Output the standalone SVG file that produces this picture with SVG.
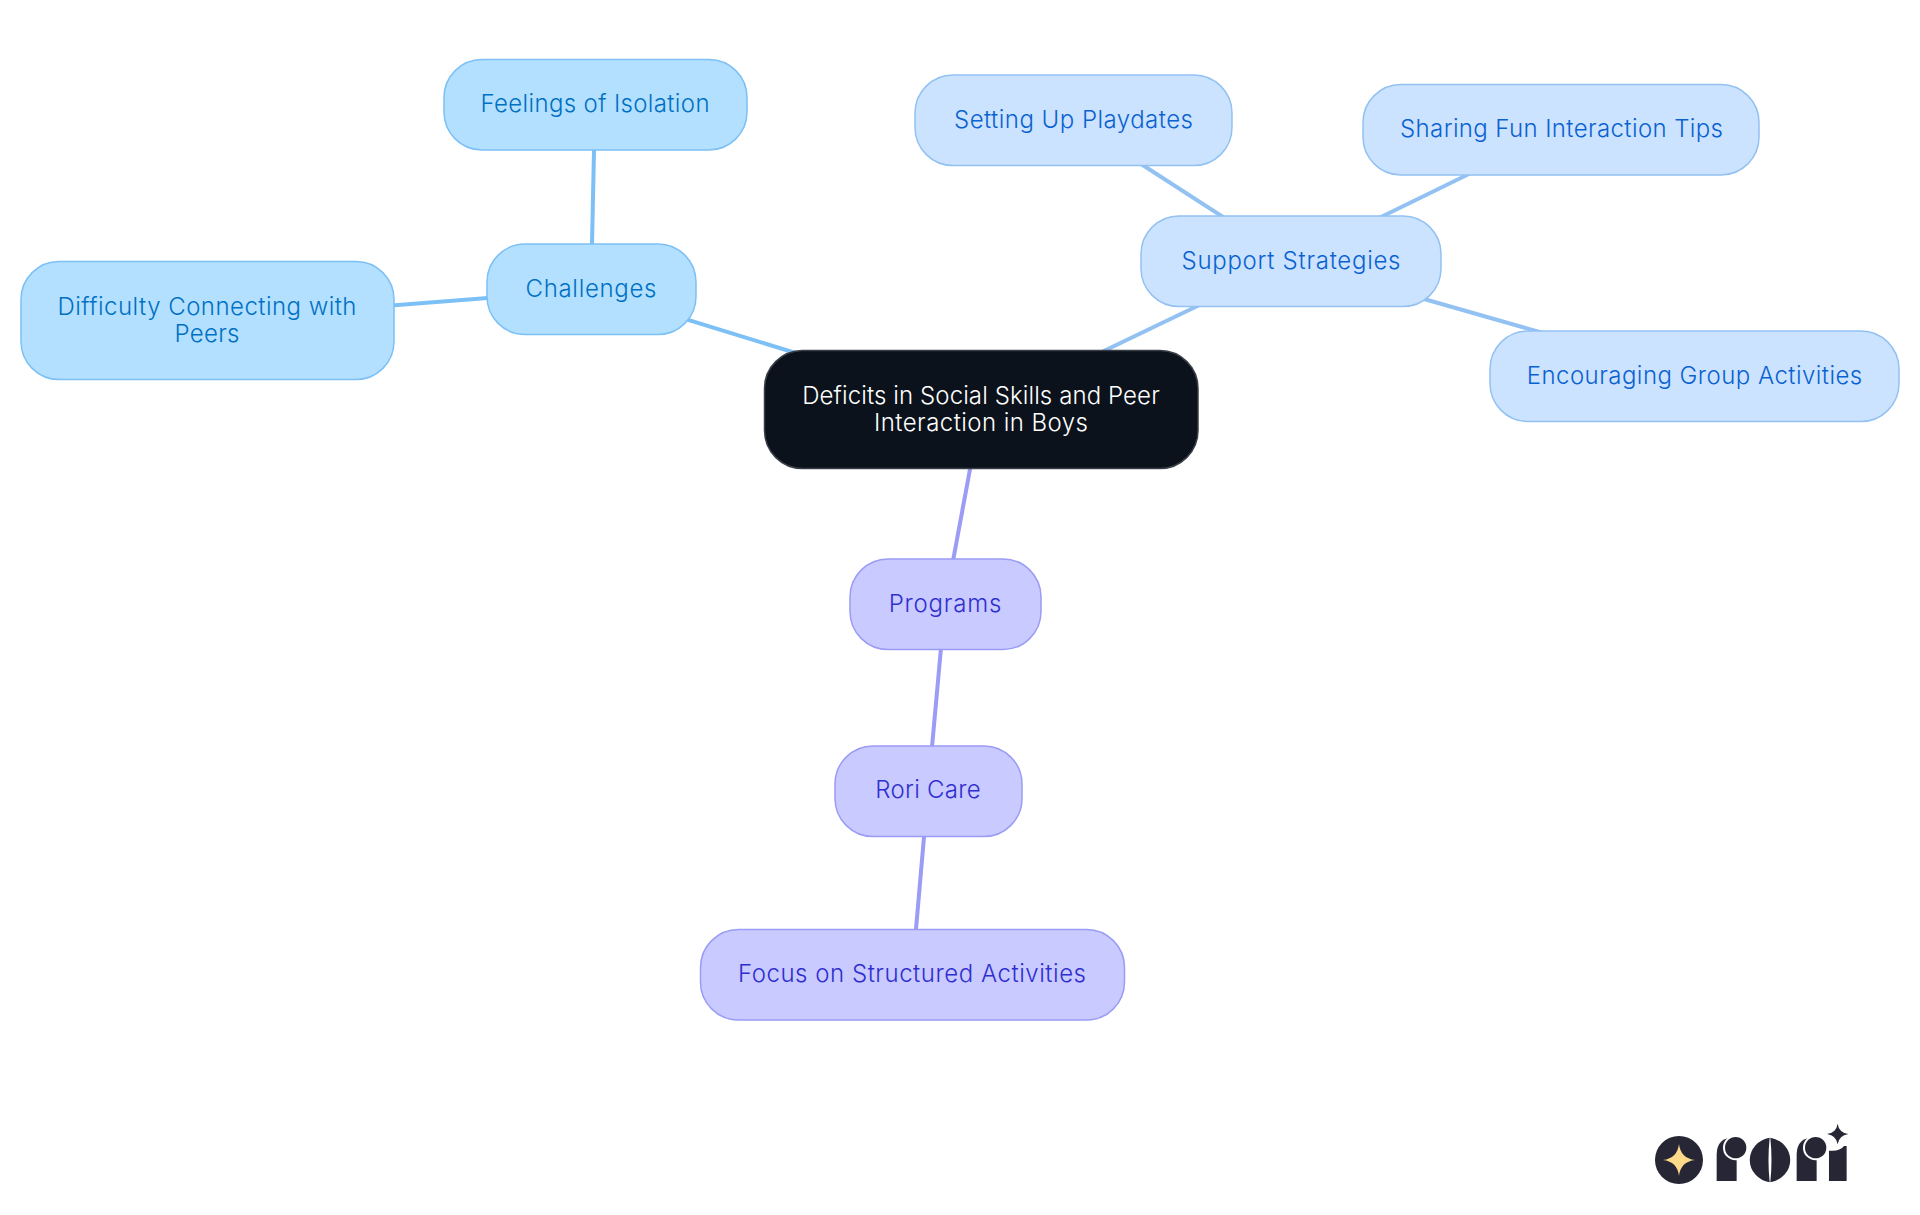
<svg xmlns="http://www.w3.org/2000/svg" width="1920" height="1215" viewBox="0 0 1920 1215">
<style>
text{font-family:"Inter","Noto Sans",sans-serif;font-size:24px;font-weight:350;text-anchor:middle}
.n{stroke-width:1.5}
.c{fill:#b3e0ff;stroke:#7cc0f5}text.c{fill:#0070c4;stroke:none}
.s{fill:#cce3ff;stroke:#92c1f2}text.s{fill:#0a62d0;stroke:none}
.p{fill:#c9caff;stroke:#9a9cf5}text.p{fill:#2f2fcf;stroke:none}
#connectors line{stroke-width:4}
.lc{stroke:#7cc0f5}.ls{stroke:#92c1f2}.lp{stroke:#9a9cf5}
.logo{fill:#262635}
text.w{fill:#fff;font-weight:300}
</style>
<rect width="1920" height="1215" fill="#fff"/>
<g id="connectors">
<line class="lc" x1="591" y1="290" x2="981" y2="410"/>
<line class="lc" x1="591" y1="290" x2="595" y2="105"/>
<line class="lc" x1="591" y1="290" x2="207" y2="320"/>
<line class="ls" x1="1291" y1="261" x2="981" y2="410"/>
<line class="ls" x1="1291" y1="261" x2="1073" y2="120"/>
<line class="ls" x1="1291" y1="261" x2="1561" y2="129"/>
<line class="ls" x1="1291" y1="261" x2="1694" y2="376"/>
<line class="lp" x1="945" y1="604" x2="981" y2="410"/>
<line class="lp" x1="945" y1="604" x2="928" y2="791"/>
<line class="lp" x1="928" y1="791" x2="912" y2="975"/>
</g>
<g id="root"><rect x="764.500" y="350.500" width="433.500" height="118" rx="38" fill="#0b121b" stroke="#3a3f47" stroke-width="1.500"/>
<text class="w" x="981" y="404" textLength="357.500">Deficits in Social Skills and Peer</text><text class="w" x="981" y="431" textLength="214">Interaction in Boys</text></g>
<g id="challenges"><rect class="n c" x="487" y="244" width="209" height="90.500" rx="38"/><text class="c" x="591" y="297" textLength="131">Challenges</text></g>
<g id="feelings"><rect class="n c" x="444" y="59.500" width="303" height="90.500" rx="38"/><text class="c" x="595" y="112" textLength="229">Feelings of Isolation</text></g>
<g id="difficulty"><rect class="n c" x="21" y="261.500" width="373" height="118" rx="38"/><text class="c" x="207" y="315" textLength="299">Difficulty Connecting with</text><text class="c" x="207" y="342" textLength="65">Peers</text></g>
<g id="support"><rect class="n s" x="1141" y="216" width="300" height="90.500" rx="38"/><text class="s" x="1291" y="269" textLength="219">Support Strategies</text></g>
<g id="playdates"><rect class="n s" x="915" y="75" width="317" height="90.500" rx="38"/><text class="s" x="1073.500" y="128" textLength="239">Setting Up Playdates</text></g>
<g id="tips"><rect class="n s" x="1363" y="84.500" width="396" height="90.500" rx="38"/><text class="s" x="1561.500" y="137" textLength="323">Sharing Fun Interaction Tips</text></g>
<g id="group"><rect class="n s" x="1490" y="331" width="409" height="90.500" rx="38"/><text class="s" x="1694.500" y="384" textLength="335.500">Encouraging Group Activities</text></g>
<g id="programs"><rect class="n p" x="850" y="559" width="191" height="90.500" rx="38"/><text class="p" x="945" y="612" textLength="112.600">Programs</text></g>
<g id="rori"><rect class="n p" x="835" y="746" width="187" height="90.500" rx="38"/><text class="p" x="928" y="798" textLength="105.500">Rori Care</text></g>
<g id="focus"><rect class="n p" x="700.500" y="929.500" width="424" height="90.500" rx="38"/><text class="p" x="912" y="982" textLength="348">Focus on Structured Activities</text></g>
<g id="logo" transform="translate(1620 1100) scale(.3333)">
<circle class="logo" cx="177" cy="180" r="72"/>
<path fill="#ffd98a" d="M177 132Q182 175 225 180Q182 185 177 228Q172 185 129 180Q172 175 177 132Z"/>
<path class="logo" d="M290 243V165Q290 118 330 114H350V243Z"/>
<circle fill="#fff" cx="347" cy="143" r="38"/>
<rect fill="#fff" x="350" y="105" width="40" height="76"/>
<circle class="logo" cx="347" cy="143" r="32"/>
<path class="logo" d="M449 113A72 68 0 0 0 449 247Q442 180 449 113Z"/>
<path class="logo" d="M451 113A72 68 0 0 1 451 247Q458 180 451 113Z"/>
<path class="logo" d="M530 243V165Q530 118 570 114H590V243Z"/>
<circle fill="#fff" cx="587" cy="143" r="38"/>
<rect fill="#fff" x="590" y="105" width="36" height="76"/>
<circle class="logo" cx="587" cy="143" r="32"/>
<path class="logo" d="M627 243V152Q660 155 672 138H680V243Z"/>
<path class="logo" d="M653 71Q657 98 685 102Q657 106 653 133Q649 106 621 102Q649 98 653 71Z"/>
</g>
</svg>
